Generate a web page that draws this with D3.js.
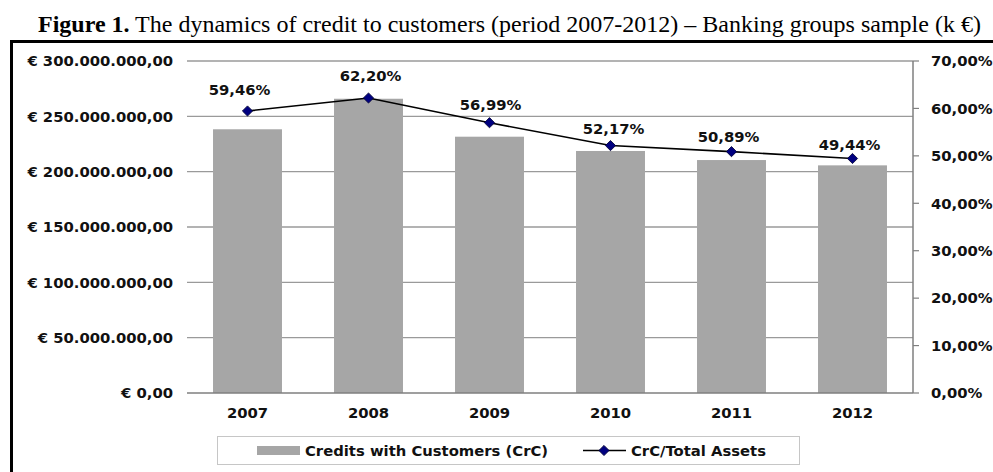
<!DOCTYPE html>
<html>
<head>
<meta charset="utf-8">
<script src="https://cdn.jsdelivr.net/npm/d3@7"></script>
<style>
  html, body { margin: 0; padding: 0; background: #fff; }
  svg { display: block; }
  .lbl { font-family: "DejaVu Sans", Verdana, sans-serif; font-weight: bold; font-size: 14.8px; fill: #111; }
</style>
</head>
<body>
<svg id="chart" width="993" height="472"></svg>
<script>
// Credits with customers per year (k €) and their share of total assets
const years = ["2007", "2008", "2009", "2010", "2011", "2012"];
const credits = [238300000, 265900000, 231600000, 218700000, 210500000, 205700000];
const ratio = [0.5946, 0.6220, 0.5699, 0.5217, 0.5089, 0.4944];
const leftTicks = [0, 50000000, 100000000, 150000000, 200000000, 250000000, 300000000];
const rightTicks = [0, 0.1, 0.2, 0.3, 0.4, 0.5, 0.6, 0.7];
const seriesNames = ["Credits with Customers (CrC)", "CrC/Total Assets"];

// Hand-placed data label offsets from each marker (layout only)
const labelDx = [-8, 2, 1, 3, -3, -3];
const labelDy = [-21, -22, -18, -16.5, -15.3, -14.3];

const locale = d3.formatLocale({
  decimal: ",", thousands: ".", grouping: [3], currency: ["€ ", ""]
});
const fmtEuro = locale.format("$,.2f");
const fmtPct = locale.format(".2%");

const svg = d3.select("#chart");
const plot = { left: 187, right: 913, top: 61, bottom: 393 };

const x = d3.scaleBand().domain(years)
  .range([plot.left, plot.right]).paddingInner(0.43).paddingOuter(0.215);
const yL = d3.scaleLinear().domain([0, 300000000]).range([plot.bottom, plot.top]);
const yR = d3.scaleLinear().domain([0, 0.7]).range([plot.bottom, plot.top]);

// Title
const title = svg.append("text")
  .attr("x", 38).attr("y", 31.5)
  .style("font-family", "'Liberation Serif', 'Times New Roman', serif")
  .style("font-size", "24px").style("fill", "#000");
title.append("tspan").style("font-weight", "bold").text("Figure 1.");
title.append("tspan").text(" The dynamics of credit to customers (period 2007-2012) – Banking groups sample (k €)");

// Frame
svg.append("line").attr("x1", 10).attr("x2", 993).attr("y1", 41.5).attr("y2", 41.5)
  .attr("stroke", "#000").attr("stroke-width", 3);
svg.append("line").attr("x1", 11.5).attr("x2", 11.5).attr("y1", 40).attr("y2", 472)
  .attr("stroke", "#000").attr("stroke-width", 3);

// Horizontal gridlines (left axis)
svg.append("g").selectAll("line").data(leftTicks.slice(1)).join("line")
  .attr("x1", plot.left).attr("x2", plot.right)
  .attr("y1", d => yL(d)).attr("y2", d => yL(d))
  .attr("stroke", "#9a9a9a").attr("stroke-width", 1.3);

// Left tick labels
svg.append("g").selectAll("text").data(leftTicks).join("text")
  .attr("class", "lbl").attr("text-anchor", "end")
  .attr("x", 173).attr("y", d => yL(d)).attr("dy", "0.36em")
  .text(d => fmtEuro(d));

// Bars
svg.append("g").selectAll("rect").data(credits).join("rect")
  .attr("x", (d, i) => x(years[i])).attr("width", x.bandwidth())
  .attr("y", d => yL(d)).attr("height", d => yL(0) - yL(d))
  .attr("fill", "#a6a6a6");

// Category axis line
svg.append("line").attr("x1", plot.left).attr("x2", plot.right)
  .attr("y1", plot.bottom).attr("y2", plot.bottom)
  .attr("stroke", "#7f7f7f").attr("stroke-width", 1.5);

// Year labels
svg.append("g").selectAll("text").data(years).join("text")
  .attr("class", "lbl").attr("text-anchor", "middle")
  .attr("x", d => x(d) + x.bandwidth() / 2).attr("y", 413).attr("dy", "0.36em")
  .text(d => d);

// Right axis
const rAxis = svg.append("g");
rAxis.append("line").attr("x1", plot.right).attr("x2", plot.right)
  .attr("y1", plot.top).attr("y2", plot.bottom)
  .attr("stroke", "#7f7f7f").attr("stroke-width", 1.5);
rAxis.selectAll("line.tick").data(rightTicks).join("line").attr("class", "tick")
  .attr("x1", plot.right).attr("x2", plot.right + 6)
  .attr("y1", d => yR(d)).attr("y2", d => yR(d))
  .attr("stroke", "#7f7f7f").attr("stroke-width", 1.2);
rAxis.selectAll("text").data(rightTicks).join("text")
  .attr("class", "lbl").attr("x", 931).attr("y", d => yR(d)).attr("dy", "0.36em")
  .text(d => fmtPct(d));

// Ratio line
const cx = i => x(years[i]) + x.bandwidth() / 2;
svg.append("path").datum(ratio)
  .attr("d", d3.line().x((d, i) => cx(i)).y(d => yR(d)))
  .attr("fill", "none").attr("stroke", "#000").attr("stroke-width", 1.6);

const diamond = d3.symbol().type(d3.symbolSquare).size(52);
svg.append("g").selectAll("path").data(ratio).join("path")
  .attr("d", diamond)
  .attr("transform", (d, i) => `translate(${cx(i)},${yR(d)}) rotate(45)`)
  .attr("fill", "#000080").attr("stroke", "#000033").attr("stroke-width", 0.8);

// Data labels
svg.append("g").selectAll("text").data(ratio).join("text")
  .attr("class", "lbl").attr("text-anchor", "middle")
  .attr("x", (d, i) => cx(i) + labelDx[i]).attr("y", (d, i) => yR(d) + labelDy[i]).attr("dy", "0.36em")
  .text(d => fmtPct(d));

// Legend
const lg = svg.append("g");
lg.append("rect").attr("x", 217.5).attr("y", 436.5).attr("width", 582).attr("height", 28)
  .attr("fill", "#fff").attr("stroke", "#c6c6c6").attr("stroke-width", 1);
lg.append("rect").attr("x", 257).attr("y", 446).attr("width", 43).attr("height", 9)
  .attr("fill", "#a6a6a6");
lg.append("text").attr("class", "lbl").attr("x", 305).attr("y", 450.5).attr("dy", "0.36em")
  .text(seriesNames[0]);
lg.append("line").attr("x1", 583).attr("x2", 626).attr("y1", 450.5).attr("y2", 450.5)
  .attr("stroke", "#000").attr("stroke-width", 1.6);
lg.append("path").attr("d", diamond)
  .attr("transform", "translate(604,450.5) rotate(45)")
  .attr("fill", "#000080").attr("stroke", "#000033").attr("stroke-width", 0.8);
lg.append("text").attr("class", "lbl").attr("x", 631).attr("y", 450.5).attr("dy", "0.36em")
  .text(seriesNames[1]);
</script>
</body>
</html>
